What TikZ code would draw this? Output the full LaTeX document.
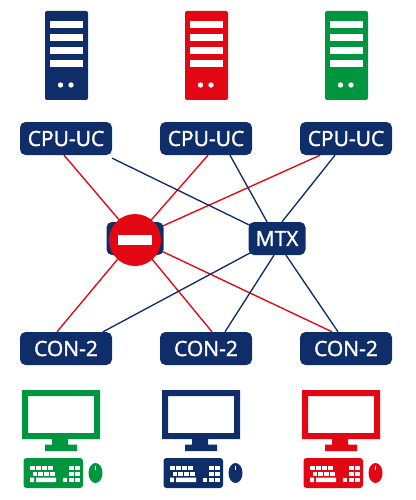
\documentclass[tikz,border=0pt]{standalone}
\usepackage{fontspec}
\setmainfont{Open Sans}
\newfontfamily\boxfont[FakeBold=1.6]{Open Sans}
\usetikzlibrary{backgrounds}
\definecolor{navy}{HTML}{0F2D69}
\definecolor{stopred}{HTML}{E30613}
\definecolor{okgreen}{HTML}{009640}
\tikzset{
  box/.style={draw=none,fill=navy,rounded corners=5.5pt,minimum height=33pt,inner sep=0pt,text=white,font=\fontsize{21}{21}\selectfont\boxfont},
  wide/.style={box,minimum width=92pt},
  mid/.style={box,minimum width=57pt},
  redline/.style={draw=stopred,line width=1.35pt},
  navyline/.style={draw=navy,line width=1.35pt}
}
\newcommand{\towericon}[2]{%
  \begin{scope}[shift={(#1,0)}]
    \fill[#2,rounded corners=2pt] (45,11) rectangle (88,100);
    \foreach \yy in {21,33.7,46.7,60}
      \fill[white] (49.5,\yy) rectangle (83,\yy+7);
    \fill[white] (60.5,85) circle (2.7) (71,85) circle (2.7);
  \end{scope}}
\newcommand{\pcicon}[2]{%
  \begin{scope}[shift={(#1,0)}]
    \fill[#2,even odd rule] (22,390) rectangle (100,439) (28,396) rectangle (94,433);
    \fill[#2] (52,439) rectangle (68,445) (45,444.5) rectangle (77,451);
    \fill[#2,rounded corners=3pt] (23.5,458) rectangle (83,488);
    \fill[#2] (95.5,473) ellipse (7 and 10);
    \draw[white,line width=.7pt] (95.5,465.5) -- (95.5,470);
    \foreach \xx in {30,35.9,41.8,47.7} \fill[white] (\xx,465.5) rectangle (\xx+4.8,470);
    \foreach \xx in {32.5,38.4,44.3,50.2} \fill[white] (\xx,471.5) rectangle (\xx+4.8,476);
    \fill[white] (30,477.5) rectangle (34,482) (36,477.5) rectangle (56,482);
    \foreach \xx in {69,75} \foreach \yy in {465.5,471.5,477.5} \fill[white] (\xx,\yy) rectangle (\xx+5,\yy+4.5);
    \fill[white] (63,477.5) rectangle (67.3,482);
  \end{scope}}
\begin{document}
\begin{tikzpicture}[x=1pt,y=-1pt]
\useasboundingbox (0,0) rectangle (415,500);
\towericon{0}{navy}
\towericon{140}{stopred}
\towericon{280}{okgreen}
\node[wide] (cpua) at (66,138.5) {CPU-UC};
\node[wide] (cpub) at (206,138.5) {CPU-UC};
\node[wide] (cpuc) at (346,138.5) {CPU-UC};
\node[mid] (mtx) at (277,238.5) {MTX};
\node[mid] (blk) at (135,238.5) {};
\node[wide] (cona) at (66,348.5) {CON-2};
\node[wide] (conb) at (206,348.5) {CON-2};
\node[wide] (conc) at (346,348.5) {CON-2};
\begin{pgfonlayer}{background}
\draw[redline] ([xshift=-2pt]cpua.south) -- (blk.center);
\draw[redline] ([xshift=2pt]cpub.south) -- (blk.center);
\draw[redline] ([xshift=-26pt]cpuc.south) -- (blk.center);
\draw[redline] ([xshift=-9pt]cona.north) -- (blk.center);
\draw[redline] ([xshift=6pt]conb.north) -- (blk.center);
\draw[redline] ([xshift=-14pt]conc.north) -- (blk.center);
\draw[navyline] ([yshift=-3pt]cpua.south east) -- (mtx.center);
\draw[navyline] ([xshift=24pt]cpub.south) -- ([xshift=-10pt]mtx.north);
\draw[navyline] ([xshift=-11pt]cpuc.south) -- ([xshift=5pt]mtx.north);
\draw[navyline] ([xshift=37pt]cona.north) -- (mtx.center);
\draw[navyline] ([xshift=19pt]conb.north) -- ([xshift=-3pt]mtx.south);
\draw[navyline] ([xshift=-8pt]conc.north) -- ([xshift=9pt]mtx.south);
\end{pgfonlayer}
\node[circle,fill=stopred,minimum size=52pt,inner sep=0pt] (stopsign) at (135,240) {};
\node[fill=white,minimum width=34pt,minimum height=10pt,inner sep=0pt] (stopbar) at (135,240) {};
\pcicon{0}{okgreen}
\pcicon{140}{navy}
\pcicon{280}{stopred}
\end{tikzpicture}
\end{document}
